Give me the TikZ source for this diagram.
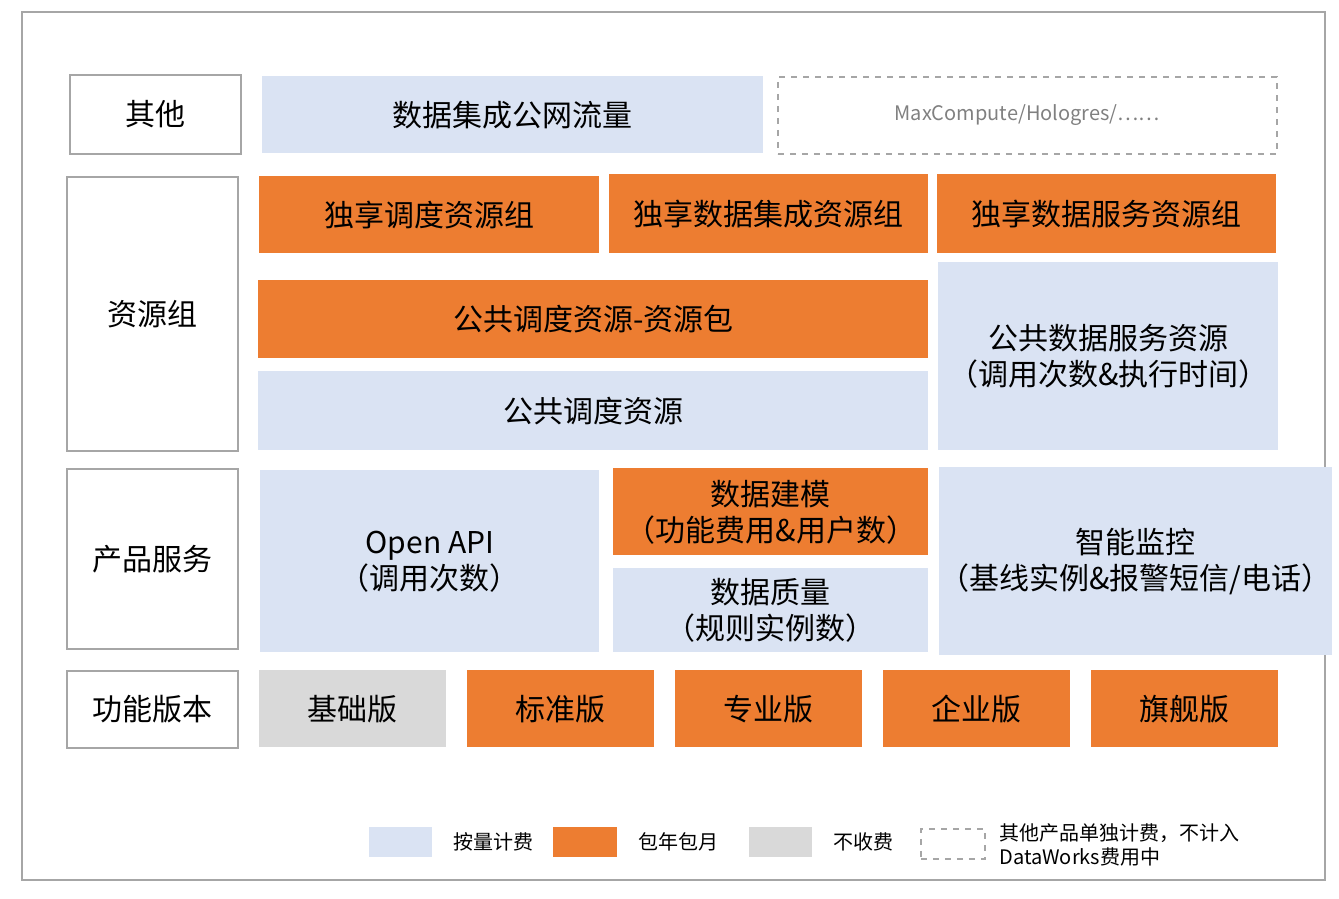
\documentclass[tikz,border=0pt]{standalone}
\usepackage{fontspec}
\setmainfont{Noto Sans CJK SC}
\definecolor{pblue}{HTML}{DAE3F3}
\definecolor{porange}{HTML}{ED7D31}
\definecolor{pgray}{HTML}{D9D9D9}
\definecolor{pline}{HTML}{A6A6A6}
\newcommand{\bx}[7]{\node[#2, anchor=north west, minimum width={(#5-#3)*0.5pt}, minimum height={(#6-#4)*0.5pt}] (#1) at (#3,#4) {#7};}
\begin{document}
\begin{tikzpicture}[x=0.5pt,y=-0.5pt,
labelbox/.style={draw=pline, line width=0.8pt, fill=white, font=\fontsize{15}{18}\selectfont, inner sep=0},
paybox/.style={fill=pblue, font=\fontsize{15}{18}\selectfont, align=center, inner sep=0},
packbox/.style={fill=porange, font=\fontsize{15}{18}\selectfont, align=center, inner sep=0},
freebox/.style={fill=pgray, font=\fontsize{15}{18}\selectfont, inner sep=0},
otherbox/.style={draw=pline, dashed, line width=0.8pt, text=gray, font=\fontsize{10}{12}\selectfont, inner sep=0},
legtext/.style={anchor=west, font=\fontsize{10}{12}\selectfont, align=left}
]
\useasboundingbox (0,0) rectangle (1339,899);
\draw[pline, line width=0.8pt] (22,12) rectangle (1325,880);

% row labels
\bx{other}{labelbox}{69}{74}{240}{153}{其他}
\bx{res}{labelbox}{66}{176}{237}{450}{资源组}
\bx{prod}{labelbox}{66}{468}{237}{648}{产品服务}
\bx{ver}{labelbox}{66}{670}{237}{747}{功能版本}

% other
\bx{net}{paybox}{262}{76}{763}{153}{数据集成公网流量}
\bx{mc}{otherbox}{777}{76}{1276}{153}{MaxCompute/Hologres/……}

% resource groups
\bx{exsch}{packbox}{259}{176}{599}{253}{独享调度资源组}
\bx{exdi}{packbox}{609}{174}{928}{253}{独享数据集成资源组}
\bx{exds}{packbox}{937}{174}{1276}{253}{独享数据服务资源组}
\bx{pubpack}{packbox}{258}{280}{928}{358}{公共调度资源-资源包}
\bx{pubsch}{paybox}{258}{371}{928}{450}{公共调度资源}
\bx{pubds}{paybox}{938}{262}{1278}{450}{公共数据服务资源\\（调用次数\&执行时间）}

% product services
\bx{api}{paybox}{260}{470}{599}{652}{Open API\\（调用次数）}
\bx{model}{packbox}{613}{468}{928}{555}{数据建模\\（功能费用\&用户数）}
\bx{quality}{paybox}{613}{568}{928}{652}{数据质量\\（规则实例数）}
\bx{monitor}{paybox}{939}{467}{1279}{655}{智能监控\\（基线实例\&报警短信/电话）}

% editions
\bx{basic}{freebox}{259}{670}{446}{747}{基础版}
\bx{std}{packbox}{467}{670}{654}{747}{标准版}
\bx{pro}{packbox}{675}{670}{862}{747}{专业版}
\bx{ent}{packbox}{883}{670}{1070}{747}{企业版}
\bx{ult}{packbox}{1091}{670}{1278}{747}{旗舰版}

% legend
\bx{lgpay}{paybox}{369}{827}{432}{857}{}
\node[legtext] (lgpayt) at (446,842) {按量计费};
\bx{lgpack}{packbox}{553}{827}{617}{857}{}
\node[legtext] (lgpackt) at (631,842) {包年包月};
\bx{lgfree}{freebox}{749}{827}{812}{857}{}
\node[legtext] (lgfreet) at (826,842) {不收费};
\bx{lgother}{otherbox}{920}{828}{984}{858}{}
\node[legtext, inner sep=0] (lgothert) at (999,845) {其他产品单独计费，不计入\\DataWorks费用中};
\end{tikzpicture}
\end{document}
